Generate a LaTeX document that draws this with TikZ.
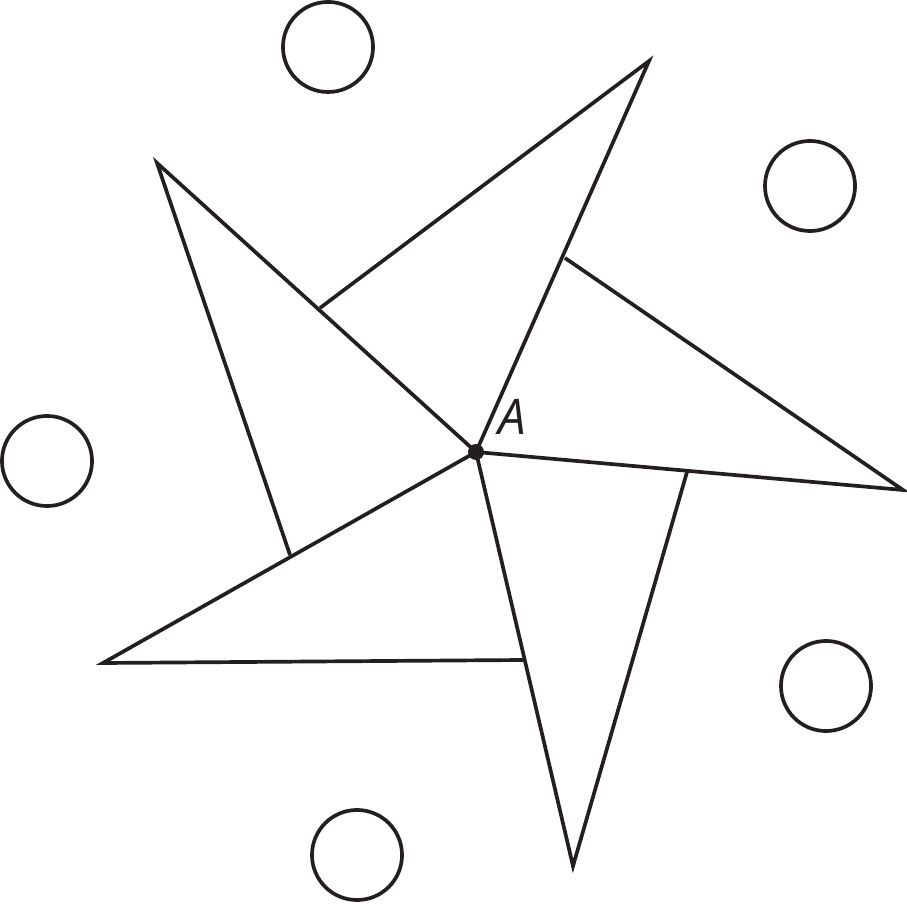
\documentclass[tikz,border=0pt]{standalone}
\usepackage{fontspec}
\setsansfont{Open Sans}
\definecolor{ink}{HTML}{231F20}
\begin{document}
\begin{tikzpicture}[x=0.01cm,y=-0.01cm,
  ring/.style={draw=ink,line width=1.05pt,circle,minimum size=0.9cm,inner sep=0pt},
  tri/.style={draw=ink,line width=1.05pt,line join=miter}]
\useasboundingbox (0,0) rectangle (907,904);
\coordinate (A) at (476,452);
\coordinate (p1) at (649,61);
\coordinate (q1) at (320,308);
\coordinate (p2) at (157,163);
\coordinate (q2) at (290,555);
\coordinate (p3) at (103,663);
\coordinate (q3) at (523,660);
\coordinate (p4) at (573,866);
\coordinate (q4) at (687,472);
\coordinate (p5) at (903,490);
\coordinate (q5) at (565,258);
\draw[tri] (A) -- (p1) -- (q1);
\draw[tri] (A) -- (p2) -- (q2);
\draw[tri] (A) -- (p3) -- (q3);
\draw[tri] (A) -- (p4) -- (q4);
\draw[tri] (A) -- (p5) -- (q5);
\fill[ink] (A) circle (8);
\node[anchor=base west,font=\sffamily\itshape\fontsize{14}{14}\selectfont,text=ink,inner sep=0pt] (lA) at (498,435) {A};
\node[ring] (c1) at (328,47) {};
\node[ring] (c2) at (810,186) {};
\node[ring] (c3) at (47,461) {};
\node[ring] (c4) at (826,686) {};
\node[ring] (c5) at (357,855) {};
\end{tikzpicture}
\end{document}
